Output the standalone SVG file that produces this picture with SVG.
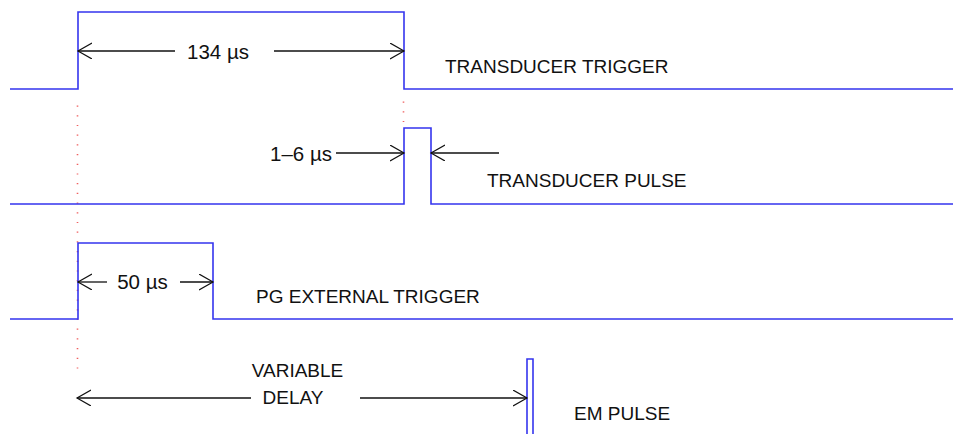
<svg xmlns="http://www.w3.org/2000/svg" width="953" height="434" viewBox="0 0 953 434">
<defs>
<marker id="chev" markerWidth="16" markerHeight="18" refX="14" refY="8" orient="auto" markerUnits="userSpaceOnUse">
<path d="M0,0 L14,8 L0,16" fill="none" stroke="#111" stroke-width="1.2"/>
</marker>
<style>
.sig{fill:none;stroke:#3535ee;stroke-width:1.6}
.dot{fill:none;stroke:#f06060;stroke-width:1.6;stroke-dasharray:1.2 8.5}
.arr{fill:none;stroke:#111;stroke-width:1.3;marker-end:url(#chev)}
text{font-family:"Liberation Sans",Arial,sans-serif;font-size:19px;fill:#111}
.u{font-size:20.5px}
</style>
</defs>
<rect width="953" height="434" fill="#fff"/>
<g id="guides">
<line class="dot" x1="77.5" y1="105.5" x2="77.5" y2="372"/>
<line class="dot" x1="403.5" y1="101.5" x2="403.5" y2="124"/>
</g>
<g id="transducer-trigger">
<path class="sig" d="M10,89 H78 V12 H404 V89 H953"/>
<text x="445" y="73">TRANSDUCER TRIGGER</text>
</g>
<g id="transducer-pulse">
<path class="sig" d="M10,204 H404 V128 H431 V204 H953"/>
<text x="487" y="187">TRANSDUCER PULSE</text>
</g>
<g id="pg-external-trigger">
<path class="sig" d="M10,319 H78 V243 H213 V319 H953"/>
<text x="256" y="303">PG EXTERNAL TRIGGER</text>
</g>
<g id="em-pulse">
<path class="sig" d="M527,440 V359 H533 V440"/>
<text x="574" y="420">EM PULSE</text>
</g>
<g id="connectors">
<line class="arr" x1="175" y1="51" x2="78" y2="51"/>
<line class="arr" x1="274" y1="51" x2="404" y2="51"/>
<line class="arr" x1="336" y1="153" x2="404" y2="153"/>
<line class="arr" x1="499" y1="153" x2="431" y2="153"/>
<line class="arr" x1="107" y1="282" x2="78" y2="282"/>
<line class="arr" x1="180" y1="282" x2="213" y2="282"/>
<line class="arr" x1="251" y1="398" x2="77" y2="398"/>
<line class="arr" x1="360" y1="398" x2="527" y2="398"/>
</g>
<g id="labels">
<text class="u" x="218" y="59" text-anchor="middle">134 µs</text>
<text class="u" x="332" y="161" text-anchor="end">1–6 µs</text>
<text class="u" x="142.5" y="289" text-anchor="middle">50 µs</text>
<text x="297.5" y="376.5" text-anchor="middle">VARIABLE</text>
<text x="293" y="404" text-anchor="middle">DELAY</text>
</g>
</svg>
